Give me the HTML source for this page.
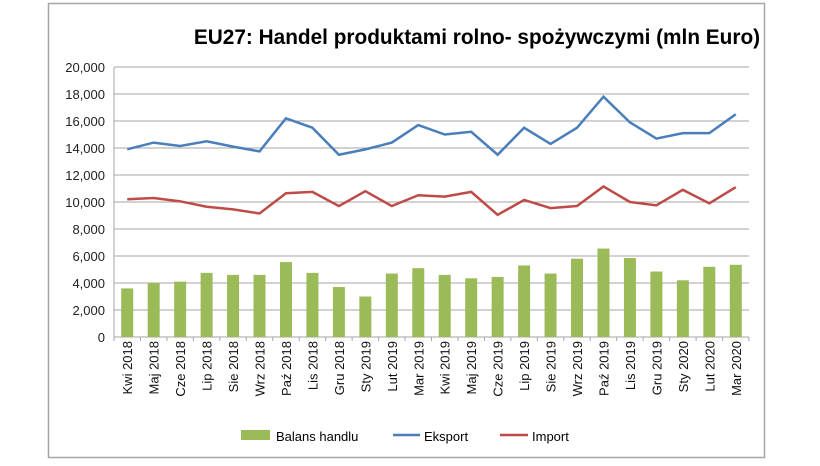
<!DOCTYPE html>
<html><head><meta charset="utf-8"><style>
body{margin:0;background:#fff;}
svg text{font-family:"Liberation Sans",Arial,sans-serif;}
</style></head><body>
<svg width="820" height="461" xmlns="http://www.w3.org/2000/svg">
<rect x="48.5" y="3.5" width="716" height="454" fill="#fff" stroke="#a6a6a6" stroke-width="1.5"/>
<text x="477" y="44" text-anchor="middle" font-size="20.8" font-weight="bold" fill="#000">EU27: Handel produktami rolno- spożywczymi (mln Euro)</text>
<g id="grid" stroke="#a6a6a6" stroke-width="1"></g>
<g id="ylab" font-size="13" fill="#222" text-anchor="end"></g>
<g id="bars" fill="#9bbb59"></g>
<g id="xlab" font-size="13" fill="#111"></g>
<polyline id="exp" fill="none" stroke="#4a7ebb" stroke-width="2.5"/>
<polyline id="imp" fill="none" stroke="#be4b48" stroke-width="2.5"/>
<rect x="241" y="430" width="29" height="10" fill="#9bbb59"/>
<text x="276" y="441" font-size="13">Balans handlu</text>
<line x1="393" y1="435" x2="420" y2="435" stroke="#4a7ebb" stroke-width="2.5"/>
<text x="424" y="441" font-size="13">Eksport</text>
<line x1="500" y1="435" x2="528" y2="435" stroke="#be4b48" stroke-width="2.5"/>
<text x="532" y="441" font-size="13">Import</text>
</svg>
<script>
const L=114,R=749,T=67,B=337,n=24,w=(R-L)/n;
const y=v=>B-v*(B-T)/20000;
const ns="http://www.w3.org/2000/svg";
function el(p,t,a,txt){const e=document.createElementNS(ns,t);for(const k in a)e.setAttribute(k,a[k]);if(txt)e.textContent=txt;document.getElementById(p).appendChild(e);}
for(let v=0;v<=20000;v+=2000){el('grid','line',{x1:L,x2:R,y1:y(v),y2:y(v)});el('ylab','text',{x:105,y:y(v)+5},v.toLocaleString('en-US'));}
el('grid','line',{x1:L,x2:L,y1:T,y2:B});
for(let i=0;i<=n;i++)el('grid','line',{x1:L+i*w,x2:L+i*w,y1:B,y2:B+4});
const lab=["Kwi 2018","Maj 2018","Cze 2018","Lip 2018","Sie 2018","Wrz 2018","Paź 2018","Lis 2018","Gru 2018","Sty 2019","Lut 2019","Mar 2019","Kwi 2019","Maj 2019","Cze 2019","Lip 2019","Sie 2019","Wrz 2019","Paź 2019","Lis 2019","Gru 2019","Sty 2020","Lut 2020","Mar 2020"];
const ex=[13900,14400,14150,14500,14100,13750,16200,15500,13500,13900,14400,15700,15000,15200,13500,15500,14300,15500,17800,15900,14700,15100,15100,16500];
const im=[10200,10300,10050,9650,9450,9150,10650,10750,9700,10800,9700,10500,10400,10750,9050,10150,9550,9700,11150,10000,9750,10900,9900,11100];
const ba=[3600,4000,4100,4750,4600,4600,5550,4750,3700,3000,4700,5100,4600,4350,4450,5300,4700,5800,6550,5850,4850,4200,5200,5350];
let pe=[],pi=[];
for(let i=0;i<n;i++){const cx=L+w*(i+.5);
el('bars','rect',{x:cx-6,y:y(ba[i]),width:12,height:B-y(ba[i])});
el('xlab','text',{transform:`translate(${cx+5},341) rotate(-90)`,'text-anchor':'end'},lab[i]);
pe.push(cx+','+y(ex[i]));pi.push(cx+','+y(im[i]));}
document.getElementById('exp').setAttribute('points',pe.join(' '));
document.getElementById('imp').setAttribute('points',pi.join(' '));
</script>
</body></html>
